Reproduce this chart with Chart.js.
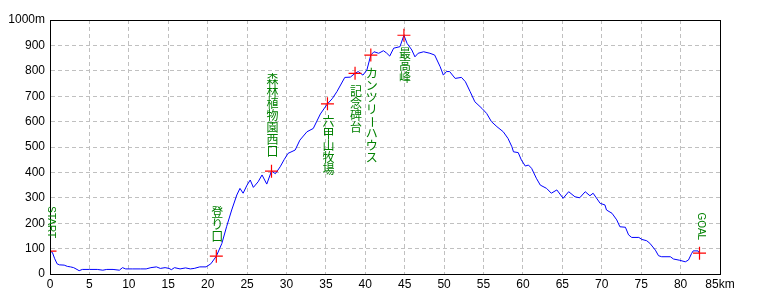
<!DOCTYPE html>
<html>
<head>
<meta charset="utf-8">
<script src="https://cdn.jsdelivr.net/npm/chart.js@4"></script>
<style>
  body { margin: 0; background: #fff; }
</style>
</head>
<body>
<canvas id="chart" width="760" height="304"></canvas>
<script>
// course profile (km, m)
const distKm = [0, 0.3, 0.6, 0.9, 1.2, 1.8, 2.2, 2.6, 3.0, 3.3, 3.7, 4.1, 5.0, 6.0, 6.7, 7.2, 8.0, 8.8, 9.2, 9.6,
  10.5, 11.5, 12.2, 12.8, 13.5, 14.0, 14.6, 15.1, 15.4, 15.8, 16.5, 17.2, 17.8, 18.3, 19.0, 19.8, 20.4, 21.1,
  21.8, 22.4, 23.05, 23.7, 24.1, 24.5, 25.0, 25.4, 25.8, 26.4, 26.9, 27.5, 28.1, 28.6, 29.2, 29.7, 30.2, 31.1,
  31.7, 32.6, 33.4, 34.3, 35.2, 35.8, 36.4, 37.4, 38.1, 38.7, 39.1, 39.7, 40.2, 40.7, 41.1, 41.7, 42.3, 42.7,
  43.1, 43.6, 44.4, 44.9, 45.3, 45.9, 46.3, 46.7, 47.4, 48.2, 48.8, 49.5, 49.9, 50.3, 50.7, 51.4, 52.2, 52.7,
  53.3, 53.9, 54.8, 55.4, 56.0, 56.7, 57.5, 58.1, 58.6, 58.8, 59.4, 59.8, 60.3, 60.7, 61.1, 61.7, 62.2, 63.0,
  63.6, 64.3, 65.1, 65.8, 66.6, 67.2, 67.9, 68.5, 68.9, 69.8, 70.4, 70.6, 71.3, 71.9, 72.3, 73.0, 73.4, 73.8,
  74.7, 75.1, 75.7, 76.1, 76.8, 77.2, 77.6, 78.7, 79.1, 79.9, 80.6, 81.0, 81.4, 81.6, 82.2, 82.4];
const altM = [90, 85, 60, 40, 36, 35, 30, 28, 25, 20, 13, 18, 18, 18, 15, 18, 18, 15, 25, 20,
  20, 20, 20, 25, 28, 22, 25, 22, 17, 25, 20, 24, 20, 22, 28, 28, 40, 70,
  120, 186, 252, 311, 337, 318, 350, 370, 341, 363, 390, 354, 405, 395, 422, 450, 475, 488,
  527, 560, 573, 630, 670, 690, 718, 774, 775, 790, 797, 783, 803, 862, 875, 869, 879, 870,
  858, 889, 895, 940, 908, 882, 855, 869, 875, 869, 862, 816, 783, 797, 797, 770, 774, 757,
  718, 678, 652, 632, 600, 580, 560, 534, 501, 481, 478, 449, 425, 429, 416, 377, 350, 337,
  318, 331, 298, 324, 304, 300, 324, 308, 318, 278, 272, 252, 239, 213, 186, 184, 154, 144,
  144, 136, 131, 121, 94, 72, 68, 68, 59, 54, 48, 55, 81, 91, 91, 82];

// checkpoints
const cpKm = [0, 21.1, 28.1, 35.2, 38.7, 40.7, 44.9, 82.4];
const cpAlt = [90, 70, 405, 670, 790, 862, 940, 82];
const cpName = ["START", "登り口", "森林植物園西口", "六甲山牧場", "記念碑台", "カンツリーハウス", "最高峰", "GOAL"];

const xTicksMax = 85;
const yTicksMax = 1000;

// label placement: above or below the cross
const cpSide = ["up", "up", "up", "down", "down", "down", "down", "up"];

let profile = distKm.map((d, i) => ({ x: d, y: altM[i] }));
let points = cpKm.map((d, i) => ({ x: d, y: cpAlt[i] }));

const labelPlugin = {
  id: "labels",
  afterDatasetsDraw(chart) {
    let ctx = chart.ctx;
    let xs = chart.scales.x, ys = chart.scales.y;
    let area = chart.chartArea;

    // frame
    ctx.save();
    ctx.strokeStyle = "#000";
    ctx.lineWidth = 1;
    ctx.strokeRect(Math.round(area.left) + 0.5, Math.round(area.top) + 0.5,
      Math.round(area.right - area.left), Math.round(area.bottom - area.top));
    ctx.restore();

    ctx.save();
    ctx.fillStyle = "#008000";
    cpName.forEach((name, i) => {
      let px = xs.getPixelForValue(cpKm[i]);
      let py = ys.getPixelForValue(cpAlt[i]);
      if (/^[A-Z]+$/.test(name)) {
        ctx.save();
        ctx.font = "10px 'Liberation Sans', Arial, sans-serif";
        let w = ctx.measureText(name).width;
        ctx.translate(px + 1, py - 13 - w / 2);
        ctx.rotate(Math.PI / 2);
        ctx.textAlign = "center";
        ctx.textBaseline = "middle";
        ctx.fillText(name, 0, 0);
        ctx.restore();
        return;
      }
      ctx.font = "12px 'Noto Sans CJK JP', sans-serif";
      ctx.textAlign = "center";
      ctx.textBaseline = "top";
      let step = 12;
      let chars = Array.from(name);
      let top = cpSide[i] === "up" ? py - 13 - chars.length * step : py + 13;
      chars.forEach((c, k) => {
        let cy = top + k * step;
        if (c === "ー") {
          ctx.save();
          ctx.translate(px + 1, cy + step / 2);
          ctx.rotate(Math.PI / 2);
          ctx.textBaseline = "middle";
          ctx.fillText(c, 0, 0);
          ctx.restore();
        } else {
          ctx.fillText(c, px + 1, cy - 1);
        }
      });
    });
    ctx.restore();
  }
};

let ctx = document.getElementById("chart").getContext("2d");

let chart = new Chart(ctx, {
  type: "scatter",
  data: {
    datasets: [{
      label: "checkpoints",
      data: points,
      showLine: false,
      pointStyle: "cross",
      pointRadius: 6.5,
      pointBorderColor: "#ff0000",
      pointBorderWidth: 1.2,
      order: 0
    }, {
      label: "profile",
      data: profile,
      showLine: true,
      borderColor: "#0000ff",
      borderWidth: 1,
      pointRadius: 0,
      tension: 0,
      order: 1
    }]
  },
  options: {
    responsive: false,
    animation: false,
    layout: { padding: { top: 20, right: 40, left: 0, bottom: 0 } },
    plugins: {
      legend: { display: false },
      tooltip: { enabled: false }
    },
    scales: {
      x: {
        type: "linear",
        min: 0,
        max: xTicksMax,
        afterFit: s => { s.height = 30; },
        ticks: {
          stepSize: 5,
          color: "#000",
          padding: 3,
          maxRotation: 0,
          font: { family: "'Liberation Sans', Arial, sans-serif", size: 12 },
          callback: v => v === xTicksMax ? v + "km" : v
        },
        grid: { color: "#c0c0c0", lineWidth: 1, drawTicks: false },
        border: { display: true, color: "#000", dash: [4, 3] }
      },
      y: {
        min: 0,
        max: yTicksMax,
        afterFit: s => { s.width = 50; },
        ticks: {
          stepSize: 100,
          color: "#000",
          padding: 5,
          font: { family: "'Liberation Sans', Arial, sans-serif", size: 12 },
          callback: v => v === yTicksMax ? v + "m" : v
        },
        grid: { color: "#c0c0c0", lineWidth: 1, drawTicks: false },
        border: { display: true, color: "#000", dash: [4, 3] }
      }
    }
  },
  plugins: [labelPlugin]
});
</script>
</body>
</html>
